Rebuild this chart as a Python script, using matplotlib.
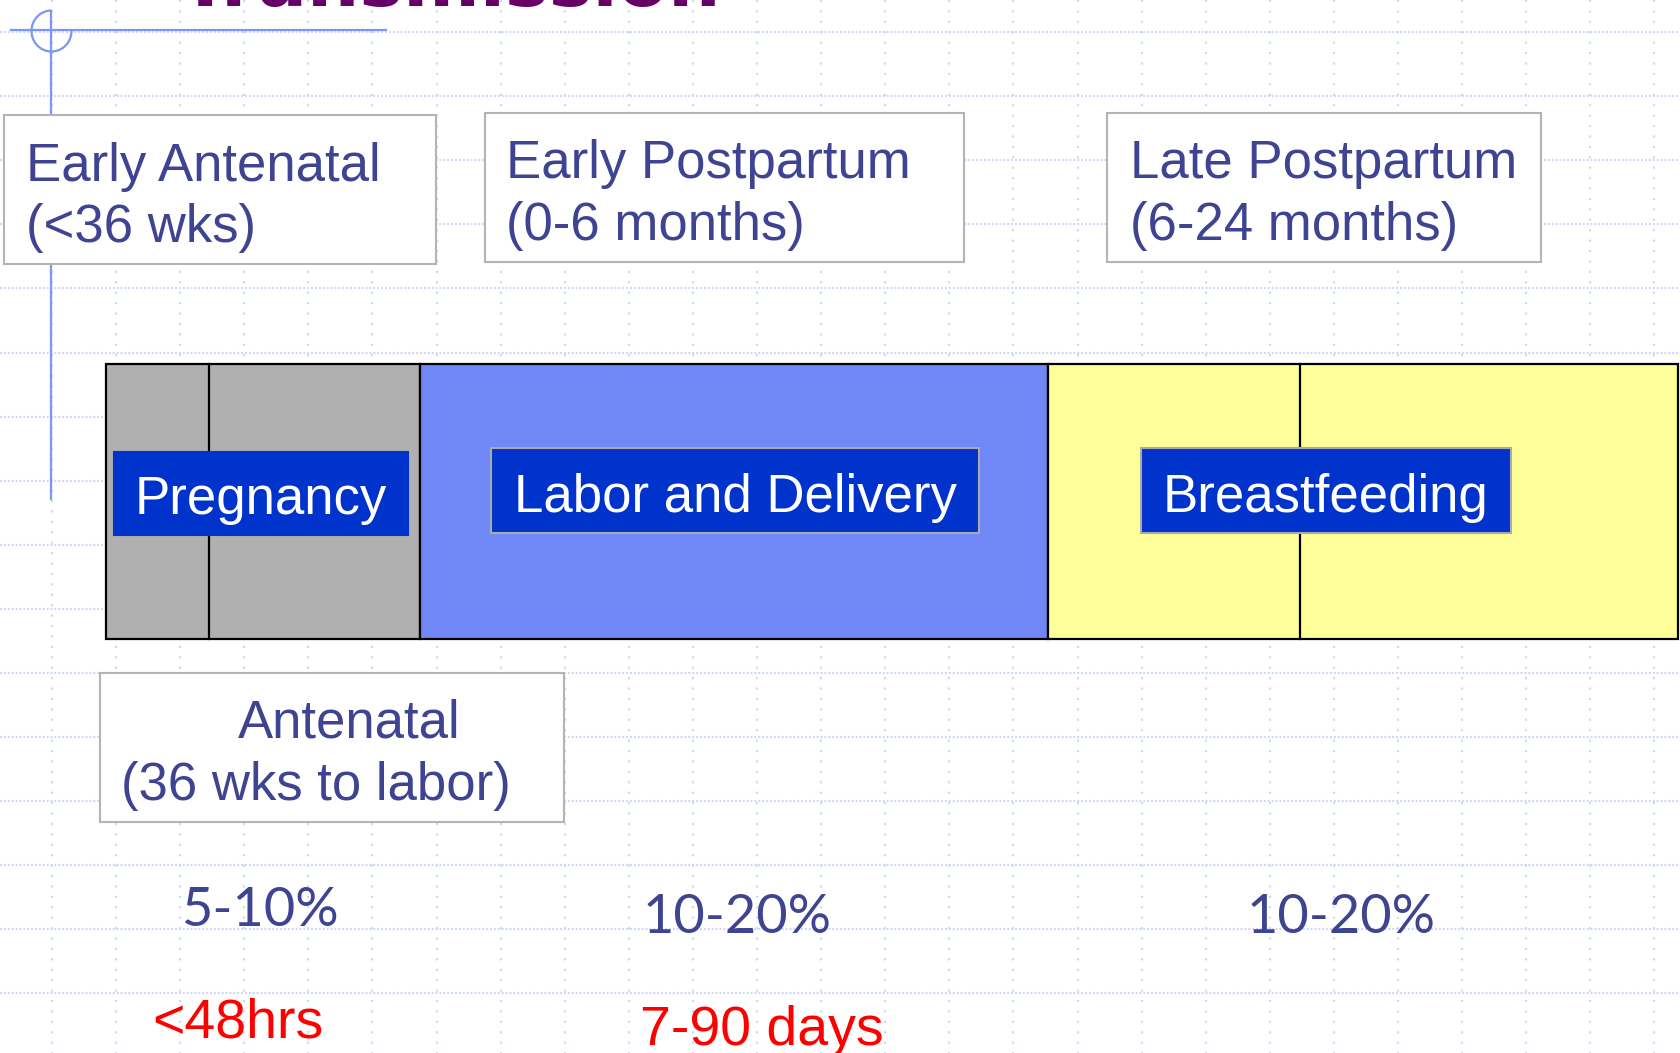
import numpy as np
import matplotlib.pyplot as plt
from matplotlib.patches import Rectangle, Arc

plt.rcParams['lines.scale_dashes'] = False

# slide is laid out in pixel units, y grows downward
W, H = 1681, 1053

# timeline bar
period_names = ['Pregnancy', 'Labor and Delivery', 'Breastfeeding']
period_start = [106, 420, 1048]
period_end = [420, 1048, 1678]
period_colors = ['#b0b0b0', '#6f88f5', '#ffff99']
sub_dividers = [209, 1300]
bar_top, bar_bottom = 364, 639

# blue name tags on the bar (x0, y0, x1, y1)
tag_boxes = [(114, 452, 408, 535), (491, 448, 979, 533), (1141, 448, 1511, 533)]
tag_edges = ['#0033cc', '#aaaaaa', '#aaaaaa']

# white window boxes
window_boxes = [(4, 115, 436, 264), (485, 113, 964, 262),
                (1107, 113, 1541, 262), (100, 673, 564, 822)]
window_lines = [['Early Antenatal', '(<36 wks)'],
                ['Early Postpartum', '(0-6 months)'],
                ['Late Postpartum', '(6-24 months)'],
                ['Antenatal', '(36 wks to labor)']]
window_x = [[26, 26], [506, 506], [1130, 1130], [238, 121]]
window_base = [[181, 242], [178, 240], [178, 240], [738, 800]]

# transmission rates and timing
rates = ['5-10%', '10-20%', '10-20%']
rate_x = [260, 737, 1341]
rate_base = [926, 933, 933]
timing = ['<48hrs', '7-90 days']
timing_x = [238, 762]
timing_base = [1038, 1045]

txt = '#3f4492'
grid_c = '#cbd7f8'
cross_c = '#7b96f5'

fig = plt.figure(figsize=(W / 100, H / 100), dpi=100)
ax = fig.add_axes([0, 0, 1, 1])
ax.set_xlim(0, W)
ax.set_ylim(H, 0)
ax.axis('off')

# background grid
gy = np.arange(32, H, 64.1)
gx = np.arange(52, W, 64.1)
ax.hlines(gy, 0, W, colors=grid_c, lw=1.5, linestyles=(0, (1.4, 1.4)), zorder=0)
ax.vlines(gx, 0, H, colors=grid_c, lw=1.5, linestyles=(0, (1.5, 6)), zorder=0)

# crosshair decoration
ax.plot([11, 386], [30, 30], color=cross_c, lw=1.6, zorder=1)
ax.plot([51.5, 51.5], [11, 499], color=cross_c, lw=1.6, zorder=1)
ax.add_patch(Arc((51.5, 31), 40, 41, theta1=0, theta2=270, color=cross_c, lw=1.6, zorder=1))

# title fragment
ax.text(180, 6, 'Transmission', color='#660066', fontsize=53, fontweight='bold',
        family='DejaVu Sans', va='baseline', ha='left', zorder=2)

# bar segments
for s, e, c in zip(period_start, period_end, period_colors):
    ax.add_patch(Rectangle((s, bar_top), e - s, bar_bottom - bar_top, facecolor=c,
                           edgecolor='black', lw=1.6, zorder=2))
for x in sub_dividers:
    ax.plot([x, x], [bar_top, bar_bottom], color='black', lw=1.6, zorder=2)

# name tags
for name, (x0, y0, x1, y1), ec in zip(period_names, tag_boxes, tag_edges):
    ax.add_patch(Rectangle((x0, y0), x1 - x0, y1 - y0, facecolor='#0033cc',
                           edgecolor=ec, lw=1.5, zorder=3))
    ax.text((x0 + x1) / 2, y1 - 21, name, color='white', fontsize=38,
            family='Liberation Sans', ha='center', va='baseline', zorder=4)

# window boxes
for (x0, y0, x1, y1), lines, xs, bs in zip(window_boxes, window_lines, window_x, window_base):
    ax.add_patch(Rectangle((x0, y0), x1 - x0, y1 - y0, facecolor='white',
                           edgecolor='#b4b4b4', lw=1.5, zorder=3))
    for line, x, b in zip(lines, xs, bs):
        ax.text(x, b, line, color=txt, fontsize=38, family='Liberation Sans',
                ha='left', va='baseline', zorder=4)

for r, x, b in zip(rates, rate_x, rate_base):
    ax.text(x, b, r, color=txt, fontsize=39, family='Lato', ha='center',
            va='baseline', zorder=4)

for t, x, b in zip(timing, timing_x, timing_base):
    ax.text(x, b, t, color='#ff0000', fontsize=40, family='Liberation Sans',
            ha='center', va='baseline', zorder=4)

fig.savefig('out.png', dpi=100)
